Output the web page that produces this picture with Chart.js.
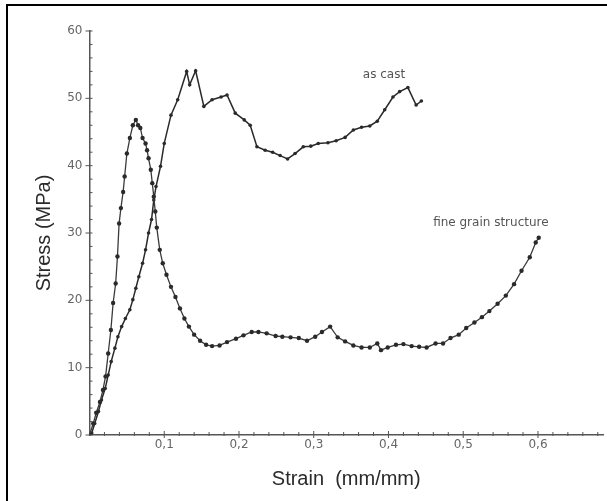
<!DOCTYPE html>
<html>
<head>
<meta charset="utf-8">
<script src="https://cdn.jsdelivr.net/npm/chart.js@4"></script>
<style>
html,body{margin:0;padding:0;background:#fff;}
#wrap{position:relative;width:607px;height:501px;}
canvas{display:block;}
</style>
</head>
<body>
<div id="wrap"><canvas id="c" width="607" height="501"></canvas></div>
<script>
// ---- data ----
const fineStrain = [0,0.005,0.009,0.014,0.018,0.0215,0.025,0.0286,0.0316,0.035,0.0374,0.0396,0.042,0.045,0.047,0.050,0.054,0.058,0.062,0.065,0.068,0.071,0.075,0.077,0.079,0.082,0.084,0.086,0.088,0.090,0.094,0.098,0.103,0.109,0.115,0.121,0.127,0.133,0.140,0.148,0.156,0.164,0.174,0.184,0.196,0.206,0.217,0.226,0.237,0.249,0.258,0.269,0.280,0.291,0.302,0.311,0.322,0.332,0.342,0.353,0.364,0.375,0.385,0.390,0.399,0.410,0.420,0.431,0.441,0.451,0.463,0.473,0.483,0.494,0.504,0.515,0.525,0.535,0.546,0.557,0.568,0.578,0.589,0.597,0.601];
const fineStress = [0,1.7,3.3,4.9,6.7,8.7,12.1,15.6,19.6,22.5,26.5,31.4,33.7,36.1,38.4,41.8,44.1,46.0,46.8,46.0,45.6,44.1,43.3,42.3,41.1,39.4,37.4,35.4,33.2,30.8,27.5,25.5,23.8,22.0,20.5,18.8,17.3,16.1,14.9,14.0,13.4,13.2,13.3,13.8,14.3,14.8,15.3,15.3,15.1,14.7,14.6,14.5,14.4,14.0,14.6,15.3,16.1,14.5,13.9,13.3,13.0,13.0,13.6,12.6,13.0,13.4,13.5,13.2,13.1,13.0,13.6,13.6,14.4,14.9,15.9,16.7,17.5,18.4,19.5,20.7,22.4,24.4,26.4,28.6,29.3];

const castStrain = [0,0.003,0.007,0.012,0.016,0.021,0.025,0.029,0.034,0.038,0.043,0.048,0.054,0.058,0.062,0.066,0.071,0.075,0.079,0.083,0.086,0.089,0.095,0.100,0.109,0.118,0.130,0.134,0.142,0.153,0.164,0.176,0.184,0.195,0.207,0.215,0.224,0.235,0.245,0.255,0.265,0.275,0.286,0.296,0.306,0.319,0.330,0.342,0.353,0.364,0.375,0.385,0.395,0.406,0.415,0.426,0.437,0.444];
const castStress = [0,0.3,1.7,3.5,5.2,6.9,8.9,10.9,12.9,14.6,16.1,17.3,18.6,20.1,21.8,23.5,25.5,27.5,30.0,32.0,34.9,36.9,39.9,43.3,47.5,49.8,54.0,52.0,54.1,48.8,49.8,50.2,50.5,47.8,46.8,46.0,42.8,42.3,42.0,41.5,41.0,41.8,42.8,42.9,43.3,43.4,43.7,44.2,45.3,45.7,45.9,46.6,48.3,50.2,51.0,51.6,49.0,49.6];

const xTickValues = [0.1,0.2,0.3,0.4,0.5,0.6];
const yTickValues = [0,10,20,30,40,50,60];
const seriesLabels = ["fine grain structure","as cast"];
const annotations = [
  {text:"as cast", x:0.394, y:53.5},
  {text:"fine grain structure", x:0.537, y:31.5}
];

const toPts = (xs, ys) => xs.map((x,i)=>({x:x, y:ys[i]}));
const AXIS = '#555';

const decor = {
  id:'decor',
  afterDraw(chart){
    const ctx = chart.ctx;
    const xs = chart.scales.x, ys = chart.scales.y;
    const x0 = xs.left, y0 = ys.bottom;
    ctx.save();
    ctx.strokeStyle = AXIS;
    ctx.lineWidth = 1;
    for (let v=0; v<=60; v+=2){
      const py = ys.getPixelForValue(v);
      const major = v%10===0;
      ctx.beginPath();
      ctx.moveTo(x0 - (major?4:0), py);
      ctx.lineTo(x0 + 3, py);
      ctx.stroke();
    }
    for (let i=1; i<=34; i++){
      const v = i*0.02;
      const px = xs.getPixelForValue(v);
      const major = i%5===0;
      ctx.beginPath();
      ctx.moveTo(px, y0 - (major?4:3));
      ctx.lineTo(px, y0 + (major?3:1));
      ctx.stroke();
    }
    ctx.fillStyle = '#555';
    ctx.font = '12px "DejaVu Sans"';
    ctx.textAlign = 'center';
    ctx.textBaseline = 'middle';
    annotations.forEach(a=>{
      ctx.fillText(a.text, xs.getPixelForValue(a.x), ys.getPixelForValue(a.y));
    });
    ctx.fillStyle = '#000';
    ctx.fillRect(6,4,601,2);
    ctx.fillRect(6,4,2,497);
    ctx.restore();
  }
};

new Chart(document.getElementById('c'), {
  type:'scatter',
  data:{
    datasets:[
      {label:seriesLabels[0], data:toPts(fineStrain,fineStress), showLine:true,
       borderColor:'#3a3a3a', backgroundColor:'#2a2a2a', borderWidth:1.3,
       pointRadius:2.2, pointBorderWidth:0, tension:0},
      {label:seriesLabels[1], data:toPts(castStrain,castStress), showLine:true,
       borderColor:'#2a2a2a', backgroundColor:'#2a2a2a', borderWidth:1.5,
       pointRadius:1.8, pointBorderWidth:0, tension:0}
    ]
  },
  options:{
    responsive:false, animation:false,
    layout:{padding:{top:31,left:0,right:0,bottom:0}},
    plugins:{legend:{display:false}, tooltip:{enabled:false}},
    scales:{
      x:{type:'linear', min:0, max:0.687,
         afterFit(s){ s.height = 66; },
         afterBuildTicks(s){ s.ticks = xTickValues.map(v=>({value:v})); },
         grid:{display:false, drawTicks:false},
         border:{display:true, color:AXIS, width:1.5},
         ticks:{color:'#666', font:{family:'DejaVu Sans', size:12}, padding:3,
                maxRotation:0, autoSkip:false, includeBounds:false,
                callback:v=>v.toFixed(1).replace('.',',')},
         title:{display:true, text:'Strain  (mm/mm)', color:'#2a2a2a',
                font:{family:'Liberation Sans', size:20}, padding:{top:0,bottom:10}}
      },
      y:{type:'linear', min:0, max:60,
         afterFit(s){ s.width = 89.5; },
         afterBuildTicks(s){ s.ticks = yTickValues.map(v=>({value:v})); },
         grid:{display:false, drawTicks:false},
         border:{display:true, color:AXIS, width:1.5},
         ticks:{color:'#666', font:{family:'DejaVu Sans', size:12}, padding:7,
                callback:v=>String(v)},
         title:{display:true, text:'Stress (MPa)', color:'#2a2a2a',
                font:{family:'Liberation Sans', size:20}, padding:{top:32,bottom:0}}
      }
    }
  },
  plugins:[decor]
});
</script>
</body>
</html>
